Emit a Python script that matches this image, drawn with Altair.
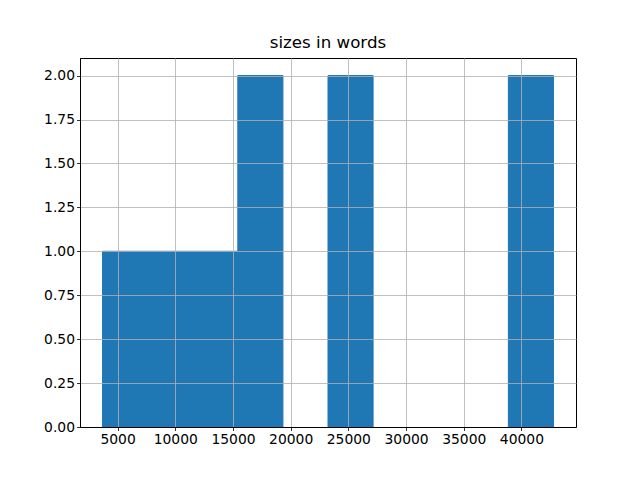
import altair as alt
import pandas as pd

bin_start = [3697, 7605, 11513, 15421, 19329, 23237, 27145, 31053, 34961, 38869]
bin_end = [7605, 11513, 15421, 19329, 23237, 27145, 31053, 34961, 38869, 42777]
counts = [1, 1, 1, 2, 0, 2, 0, 0, 0, 2]
x_ticks = [5000, 10000, 15000, 20000, 25000, 30000, 35000, 40000]
y_ticks = [0, 0.25, 0.5, 0.75, 1.0, 1.25, 1.5, 1.75, 2.0]

df = pd.DataFrame({"start": bin_start, "end": bin_end, "count": counts})

font = "DejaVu Sans"

common = dict(title=None, grid=True, gridColor="#b0b0b0", gridWidth=0.8,
              gridOpacity=1, zindex=1, domain=True, domainColor="black",
              domainWidth=1, tickColor="black", tickSize=3.5, tickWidth=0.8,
              labelFont=font, labelFontSize=10 * 100 / 72,
              labelColor="black", labelPadding=2, labelFlush=False)

chart = alt.Chart(df).transform_filter(
    "datum.count > 0"
).mark_rect(color="#1f77b4", stroke="#1f77b4", strokeWidth=1).encode(
    x=alt.X("start:Q", scale=alt.Scale(domain=[1743, 44731], nice=False, zero=False),
            axis=alt.Axis(values=x_ticks, format="d", **common)),
    x2="end:Q",
    y=alt.Y("count:Q", scale=alt.Scale(domain=[0, 2.1], nice=False),
            axis=alt.Axis(values=y_ticks, format=".2f", **common)),
    y2=alt.datum(0),
).properties(
    width=496,
    height=369,
    title=alt.TitleParams("sizes in words", font=font, fontSize=12 * 100 / 72,
                          fontWeight="normal", color="black", offset=6),
    autosize=alt.AutoSizeParams(type="none"),
    padding={"left": 72, "top": 50, "right": 56, "bottom": 45},
).configure_view(
    stroke="black", strokeWidth=1
)

chart.save("out.html", embed_options={"renderer": "svg", "actions": False})
